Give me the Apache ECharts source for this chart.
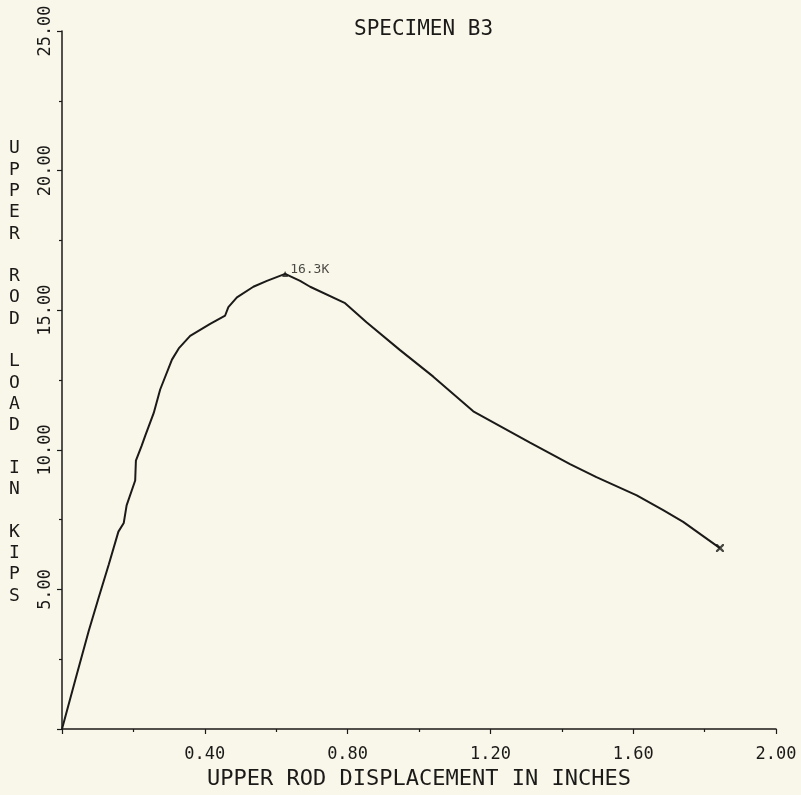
<!DOCTYPE html>
<html>
<head>
<meta charset="utf-8">
<script src="https://cdn.jsdelivr.net/npm/echarts@6/dist/echarts.min.js"></script>
<style>
  html, body { margin: 0; padding: 0; background: #f8f7ea; }
  #chart { width: 801px; height: 795px; }
</style>
</head>
<body>
<div id="chart"></div>
<script>
// Upper rod displacement (inches)
const dispIn = [0, 0.037, 0.075, 0.103, 0.131, 0.158, 0.173, 0.181, 0.205, 0.207, 0.223, 0.233,
  0.257, 0.275, 0.308, 0.327, 0.359, 0.415, 0.457, 0.466, 0.490, 0.536, 0.574, 0.625,
  0.667, 0.695, 0.793, 0.853, 0.947, 1.040, 1.152, 1.227, 1.311, 1.423, 1.497, 1.610,
  1.684, 1.740, 1.843];
// Upper rod load (kips)
const loadKips = [0, 1.75, 3.52, 4.72, 5.89, 7.07, 7.38, 8.01, 8.90, 9.61, 10.14, 10.50,
  11.32, 12.16, 13.23, 13.63, 14.08, 14.51, 14.81, 15.11, 15.46, 15.84, 16.05, 16.30,
  16.05, 15.84, 15.25, 14.57, 13.57, 12.62, 11.38, 10.85, 10.26, 9.49, 9.02, 8.37,
  7.84, 7.42, 6.48];
const peakLabel = '16.3K';
const titleText = 'SPECIMEN B3';
const xAxisTitle = 'UPPER ROD DISPLACEMENT IN INCHES';
const yAxisTitle = 'UPPER ROD LOAD IN KIPS';
const xTickLabels = ['0.40', '0.80', '1.20', '1.60', '2.00'];
const yTickLabels = ['5.00', '10.00', '15.00', '20.00', '25.00'];

const FONT = 'DejaVu Sans Mono';
const INK = '#1c1a18';

const linePts = dispIn.map((x, i) => [x, loadKips[i]]);
let peakIdx = 0;
loadKips.forEach((v, i) => { if (v > loadKips[peakIdx]) peakIdx = i; });
const peakPt = [dispIn[peakIdx], loadKips[peakIdx]];
const lastIdx = dispIn.length - 1;
const endPt = [dispIn[lastIdx], loadKips[lastIdx]];

function fmtTick(list, v) {
  const s = v.toFixed(2);
  return list.indexOf(s) >= 0 ? s : '';
}

const chart = echarts.init(document.getElementById('chart'), null, { renderer: 'canvas' });
chart.setOption({
  backgroundColor: '#f8f7ea',
  animation: false,
  title: {
    text: titleText,
    left: 349,
    top: 14,
    textStyle: { fontFamily: FONT, fontSize: 21, fontWeight: 'normal', color: INK }
  },
  grid: { left: 62, right: 25, top: 31, bottom: 59, containLabel: false },
  xAxis: {
    type: 'value',
    min: 0, max: 2.0, interval: 0.4,
    name: xAxisTitle,
    nameLocation: 'middle',
    nameGap: 39,
    nameTextStyle: { fontFamily: FONT, fontSize: 22, color: INK },
    axisLine: { show: true, onZero: false, lineStyle: { color: INK, width: 1.5 } },
    axisTick: { show: true, length: 5, lineStyle: { color: INK, width: 1.2 } },
    minorTick: { show: true, splitNumber: 2, length: 3, lineStyle: { color: INK, width: 1.2 } },
    splitLine: { show: false },
    axisLabel: {
      margin: 17,
      fontFamily: FONT, fontSize: 17, color: INK,
      formatter: v => fmtTick(xTickLabels, v)
    }
  },
  yAxis: {
    type: 'value',
    min: 0, max: 25, interval: 5,
    axisLine: { show: true, onZero: false, lineStyle: { color: INK, width: 1.5 } },
    axisTick: { show: true, length: 5, lineStyle: { color: INK, width: 1.2 } },
    minorTick: { show: true, splitNumber: 2, length: 3, lineStyle: { color: INK, width: 1.2 } },
    splitLine: { show: false },
    axisLabel: {
      rotate: 90,
      margin: 8,
      fontFamily: FONT, fontSize: 17, color: INK,
      formatter: v => fmtTick(yTickLabels, v)
    }
  },
  graphic: [{
    type: 'text',
    left: 9,
    top: 138,
    style: {
      text: yAxisTitle.split('').join('\n'),
      fontFamily: FONT,
      fontSize: 18,
      lineHeight: 21.3,
      fill: INK,
      align: 'center'
    }
  }],
  series: [
    {
      type: 'line',
      data: linePts,
      showSymbol: false,
      smooth: false,
      lineStyle: { color: INK, width: 2 },
      z: 3
    },
    {
      type: 'scatter',
      data: [peakPt],
      symbol: 'triangle',
      symbolSize: 6,
      itemStyle: { color: INK },
      label: {
        show: true,
        position: 'right',
        distance: 2,
        offset: [0, -4],
        formatter: peakLabel,
        fontFamily: FONT, fontSize: 13, color: INK
      },
      z: 4
    },
    {
      type: 'scatter',
      data: [endPt],
      symbol: 'path://M0,0 L2,0 L5,3 L8,0 L10,0 L10,2 L7,5 L10,8 L10,10 L8,10 L5,7 L2,10 L0,10 L0,8 L3,5 L0,2 Z',
      symbolSize: 8,
      itemStyle: { color: INK },
      z: 4
    }
  ]
});
</script>
</body>
</html>
